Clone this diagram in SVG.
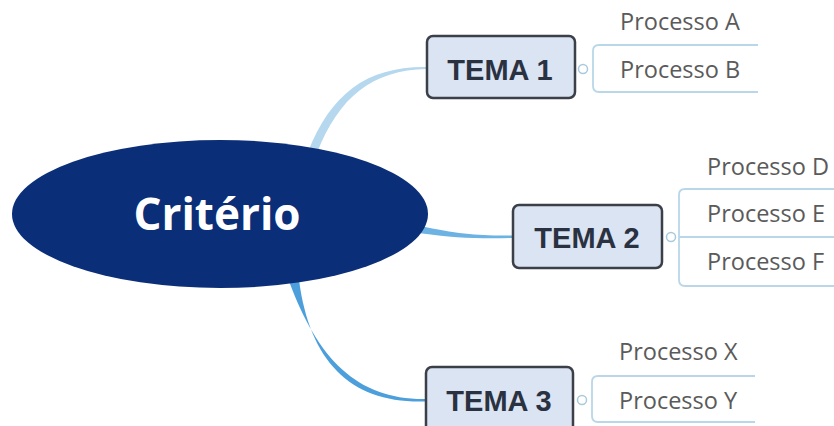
<svg xmlns="http://www.w3.org/2000/svg" width="834" height="426" viewBox="0 0 834 426">
<style>
.tema{fill:#dbe4f2;stroke:#3b3f48;stroke-width:2.5}
.tt{font-family:"Liberation Sans",Arial,sans-serif;font-weight:bold;font-size:29px;fill:#2a3242;text-anchor:middle}
.pt{font-family:"Open Sans","Noto Sans",sans-serif;font-size:23.5px;fill:#5a5a5a}
.br{fill:none;stroke:#b9d7e8;stroke-width:1.8}
.knob{fill:#fff;stroke:#a9c9dc;stroke-width:1.5}
</style>
<g id="connectors">
<path d="M 308 152 C 331 93, 368 66, 427 67 L 427 69 C 372 70, 339 97, 317 153 Z" fill="#b5d8ef"/>
<path d="M 420 226 C 458 234, 480 236, 513 235.5 L 513 238 C 480 239, 456 238, 418 233 Z" fill="#6cb2e3"/>
<path d="M 289 281 C 318 360, 358 400, 426 399 L 426 401.5 C 352 404, 310 363, 299 280 Z" fill="#4d9fdc"/>
<path class="br" d="M 758 45 H 599 Q 593 45 593 51 V 86 Q 593 92 599 92 H 758"/>
<path class="br" d="M 834 189 H 685 Q 679 189 679 195 V 280 Q 679 286 685 286 H 834 M 679 237 H 834"/>
<path class="br" d="M 755 376 H 598 Q 592 376 592 382 V 416 Q 592 422 598 422 H 755"/>
</g>
<g id="criterio">
<ellipse cx="220" cy="214" rx="208" ry="74" fill="#0b2e78"/>
<text x="217" y="230" font-family="'Open Sans','Noto Sans',sans-serif" font-weight="bold" font-size="44" fill="#ffffff" text-anchor="middle">Critério</text>
</g>
<g id="tema1">
<rect class="tema" x="427" y="36" width="148" height="62" rx="6"/>
<text class="tt" x="500" y="80">TEMA 1</text>
<circle class="knob" cx="583" cy="69" r="4.5"/>
</g>
<g id="tema2">
<rect class="tema" x="513" y="205" width="149" height="63" rx="6"/>
<text class="tt" x="587" y="248">TEMA 2</text>
<circle class="knob" cx="671" cy="237" r="4.5"/>
</g>
<g id="tema3">
<rect class="tema" x="426" y="367" width="147" height="68" rx="6"/>
<text class="tt" x="499" y="411">TEMA 3</text>
<circle class="knob" cx="582" cy="400" r="4.5"/>
</g>
<g id="procA"><text class="pt" x="620" y="30">Processo A</text></g>
<g id="procB"><text class="pt" x="620" y="78">Processo B</text></g>
<g id="procD"><text class="pt" x="707" y="175">Processo D</text></g>
<g id="procE"><text class="pt" x="707" y="222">Processo E</text></g>
<g id="procF"><text class="pt" x="707" y="270">Processo F</text></g>
<g id="procX"><text class="pt" x="619" y="360">Processo X</text></g>
<g id="procY"><text class="pt" x="619" y="409">Processo Y</text></g>
</svg>
